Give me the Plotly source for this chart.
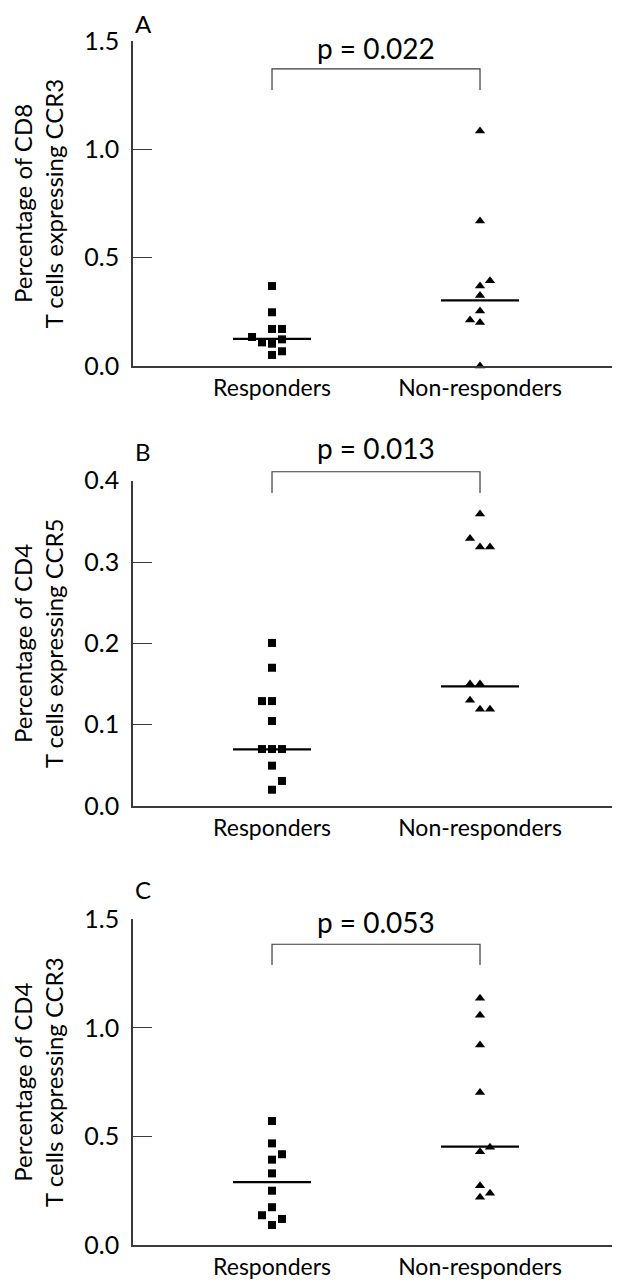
import plotly.graph_objects as go

# ---------------- data ----------------
groups = ["Responders", "Non-responders"]
panel_letters = ["A", "B", "C"]
y_titles = [
    "Percentage of CD8<br>T cells expressing CCR3",
    "Percentage of CD4<br>T cells expressing CCR5",
    "Percentage of CD4<br>T cells expressing CCR3",
]
p_labels = ["p = 0.022", "p = 0.013", "p = 0.053"]
y_max = [1.5, 0.4, 1.5]
y_dtick = [0.5, 0.1, 0.5]

# Panel A: CD8 T cells expressing CCR3
a_resp = [0.369, 0.248, 0.171, 0.171, 0.134, 0.123, 0.109, 0.103, 0.068, 0.051]
a_resp_slot = [0, 0, 0, 1, -2, 1, -1, 0, 1, 0]
a_non = [1.085, 0.669, 0.394, 0.369, 0.325, 0.254, 0.212, 0.201, 0.0]
a_non_slot = [0, 0, 1, 0, 0, 0, -1, 0, 0]
a_median = [0.125, 0.303]

# Panel B: CD4 T cells expressing CCR5
b_resp = [0.2005, 0.170, 0.129, 0.129, 0.1045, 0.070, 0.070, 0.070, 0.0496, 0.0308, 0.020]
b_resp_slot = [0, 0, -1, 0, 0, -1, 0, 1, 0, 1, 0]
b_non = [0.359, 0.329, 0.3186, 0.3186, 0.150, 0.150, 0.130, 0.119, 0.119]
b_non_slot = [0, -1, 0, 1, -1, 0, -1, 0, 1]
b_median = [0.0697, 0.147]

# Panel C: CD4 T cells expressing CCR3
c_resp = [0.571, 0.468, 0.418, 0.393, 0.330, 0.250, 0.174, 0.137, 0.120, 0.092]
c_resp_slot = [0, 0, 1, 0, 0, 0, 0, -1, 1, 0]
c_non = [1.136, 1.058, 0.921, 0.702, 0.450, 0.430, 0.273, 0.238, 0.220]
c_non_slot = [0, 0, 0, 0, 1, 0, 0, 1, 0]
c_median = [0.290, 0.453]

# significance brackets (data units of each panel)
bracket_top = [1.371, 0.411, 1.385]
bracket_bottom = [1.274, 0.385, 1.290]
p_label_y = [1.468, 0.4404, 1.488]

panels = [
    (a_resp, a_resp_slot, a_non, a_non_slot, a_median),
    (b_resp, b_resp_slot, b_non, b_non_slot, b_median),
    (c_resp, c_resp_slot, c_non, c_non_slot, c_median),
]

# ---------------- layout / style ----------------
FONT = "Lato"
PAGE_OFF = 8                      # default body margin of the html page
W, H = 620 - PAGE_OFF, 1280 - PAGE_OFF


def px_x(p):
    return (p - PAGE_OFF) / W


def px_y(p):
    return 1 - (p - PAGE_OFF) / H


X_RANGE = [0.3317, 2.673]
X_DOMAIN = [px_x(133), 1.0]
Y_DOMAINS = [
    (px_y(366), px_y(41)),
    (px_y(806), px_y(480.7)),
    (px_y(1245), px_y(919.3)),
]
# top edge (page pixels) of each panel-letter text box
LETTER_TOP = [8, 436, 874]
DODGE = 0.048
MEDIAN_HALF = 0.1875
AXIS_COLOR = "#3a3a3a"

fig = go.Figure()
layout = dict(
    width=W, height=H,
    margin=dict(l=0, r=0, t=0, b=0, autoexpand=False),
    paper_bgcolor="white", plot_bgcolor="white",
    showlegend=False,
    font=dict(family=FONT, color="black"),
    shapes=[], annotations=[],
)

for i, (resp, resp_slot, non, non_slot, med) in enumerate(panels):
    n = "" if i == 0 else str(i + 1)
    xa, ya = "x" + n, "y" + n
    # points
    fig.add_trace(go.Scatter(
        x=[1 + s * DODGE for s in resp_slot], y=resp, mode="markers",
        marker=dict(symbol="square", size=8, color="black"),
        xaxis=xa, yaxis=ya, cliponaxis=False, hoverinfo="y"))
    fig.add_trace(go.Scatter(
        x=[2 + s * DODGE for s in non_slot], y=non, mode="markers",
        marker=dict(symbol="triangle-up", size=9, color="black"),
        xaxis=xa, yaxis=ya, cliponaxis=False, hoverinfo="y"))
    # medians
    for g, m in zip([1, 2], med):
        layout["shapes"].append(dict(
            type="line", xref=xa, yref=ya,
            x0=g - MEDIAN_HALF, x1=g + MEDIAN_HALF, y0=m, y1=m,
            line=dict(color="black", width=2.2)))
    # bracket
    top = bracket_top[i] / y_max[i]
    bot = bracket_bottom[i] / y_max[i]
    layout["shapes"].append(dict(
        type="path", xref=xa, yref=ya + " domain",
        path=f"M1,{bot} L1,{top} L2,{top} L2,{bot}",
        line=dict(color=AXIS_COLOR, width=1.2)))
    layout["annotations"].append(dict(
        text=p_labels[i], xref=xa, yref=ya + " domain",
        x=1.5, y=p_label_y[i] / y_max[i], showarrow=False,
        xanchor="center", yanchor="middle",
        font=dict(size=28, family=FONT, color="black")))
    # panel letter
    layout["annotations"].append(dict(
        text=panel_letters[i], xref="paper", yref="paper",
        x=px_x(134), y=px_y(LETTER_TOP[i]), showarrow=False,
        xanchor="left", yanchor="top", borderpad=0,
        font=dict(size=24, family=FONT, color="black")))
    # axes
    layout["xaxis" + n] = dict(
        domain=X_DOMAIN, range=X_RANGE, anchor=ya, automargin=False,
        tickvals=[1, 2], ticktext=groups, ticks="",
        showline=True, linecolor=AXIS_COLOR, linewidth=1.5,
        showgrid=False, zeroline=False,
        tickfont=dict(size=23, family=FONT, color="black"),
        ticklabelstandoff=1, fixedrange=True)
    layout["yaxis" + n] = dict(
        domain=list(Y_DOMAINS[i]), range=[0, y_max[i]], anchor=xa,
        automargin=False,
        dtick=y_dtick[i], tick0=0, tickformat=".1f",
        ticks="inside", ticklen=19, tickwidth=1.3, tickcolor=AXIS_COLOR,
        showline=True, linecolor=AXIS_COLOR, linewidth=1.5,
        showgrid=False, zeroline=False,
        tickfont=dict(size=25, family=FONT, color="black"),
        ticklabelstandoff=7,
        title=dict(text=y_titles[i], standoff=21,
                   font=dict(size=24, family=FONT, color="black")),
        fixedrange=True)

fig.update_layout(**layout)
fig.write_html("out.html")
